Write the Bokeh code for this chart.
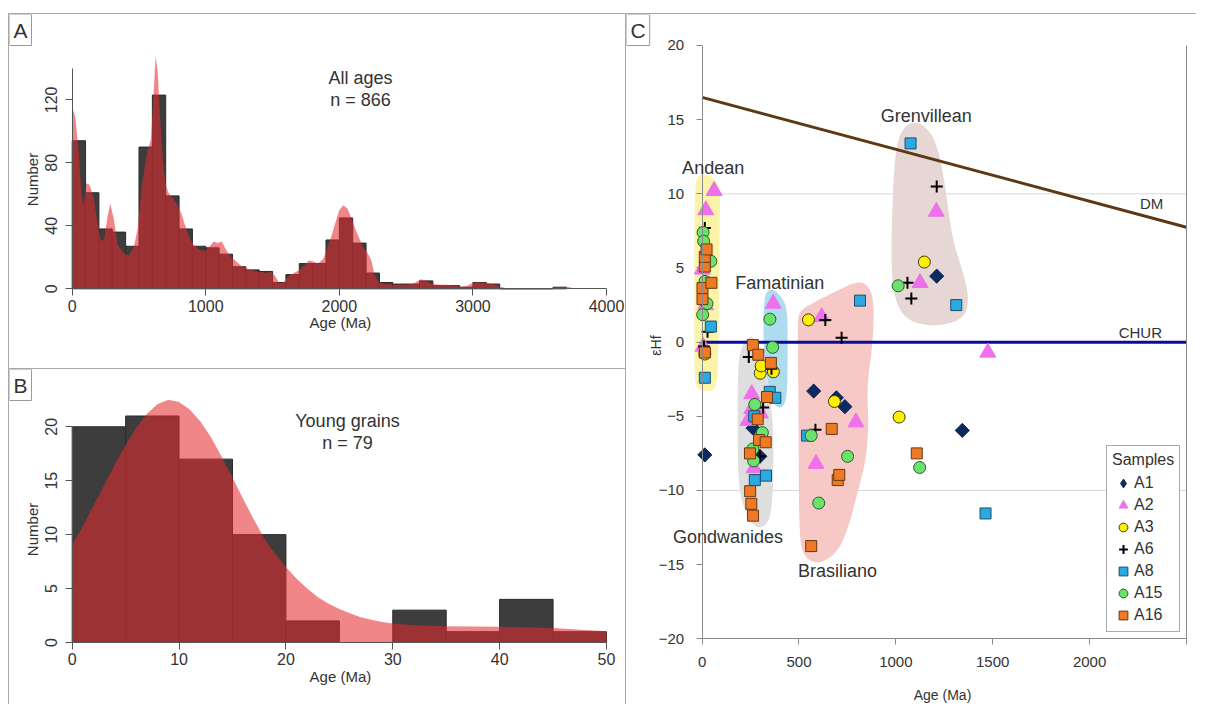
import numpy as np
from bokeh.plotting import figure
from bokeh.layouts import row, column
from bokeh.models import (Range1d, FixedTicker, Label, Legend, LegendItem,
                          LinearAxis, Spacer)
from bokeh.embed import file_html
from bokeh.resources import INLINE

FONT = "Liberation Sans"
TXT = "#333333"

# ---------------- Panel A : all ages ----------------
A_BIN_WIDTH = 100
A_COUNTS = [94, 61, 38, 36, 27, 90, 123, 59, 38, 27, 26, 22, 14, 12, 11, 4, 9, 16, 16,
            31, 45, 29, 10, 4, 3, 3, 5, 2, 2, 1, 4, 3, 0, 0, 0, 0, 1]
A_KDE_AGE = [0, 25, 50, 70, 85, 105, 130, 160, 190, 215, 240, 265, 285, 310, 340, 380,
             420, 460, 490, 520, 560, 590, 610, 625, 640, 660, 680, 700, 720, 750, 790,
             820, 850, 880, 910, 950, 990, 1030, 1060, 1090, 1120, 1150, 1180, 1220, 1260,
             1300, 1340, 1380, 1420, 1460, 1490, 1520, 1550, 1580, 1620, 1660, 1700, 1740,
             1770, 1800, 1840, 1880, 1910, 1940, 1970, 2000, 2030, 2060, 2090, 2120, 2150,
             2180, 2210, 2240, 2260, 2290, 2330, 2400, 2500, 2560, 2610, 2650, 2690, 2750,
             2800, 2870, 2920, 2960, 3000, 3050, 3100, 3150, 3200, 3250, 3300, 3550, 3600,
             3650, 3700, 3760, 3800]
A_KDE_VAL = [116, 108, 85, 60, 52, 67, 66, 58, 42, 30, 32, 46, 54, 45, 28, 23,
             21, 26, 38, 65, 86, 95, 125, 148, 138, 105, 80, 66, 61, 58, 53,
             47, 39, 32, 28, 25, 24, 27, 30, 29, 30, 25, 21, 18, 15,
             13, 12, 11, 10.5, 10, 11, 8, 3.5, 4, 8, 10, 12, 15,
             18, 17.5, 16, 19, 26, 33, 42, 50, 53, 51, 45, 38, 32,
             26, 23, 18, 10, 4.5, 3, 2.5, 2.5, 3.5, 6, 5, 3, 2.5,
             2.5, 2, 1.2, 2, 3.8, 4.2, 3.8, 3, 1.5, 0.3, 0, 0, 0.6,
             1.3, 1.3, 0.3, 0]

# ---------------- Panel B : young grains ----------------
B_BIN_WIDTH = 5
B_COUNTS = [20, 21, 17, 10, 2, 0, 3, 1, 4, 1]
B_KDE_AGE = [0, 1, 2, 3, 4, 5, 6, 7, 8, 9, 10, 11, 12, 13, 14, 15, 16, 17, 18, 19, 20,
             21, 22, 23, 24, 25, 26, 27, 28, 29, 30, 32, 35, 40, 45, 50]
B_KDE_VAL = [9.0, 10.8, 12.7, 14.6, 16.5, 18.3, 19.9, 21.2, 22.1, 22.5, 22.3, 21.6, 20.5,
             19.0, 17.2, 15.3, 13.3, 11.4, 9.6, 8.2, 7.0, 5.9, 5.0, 4.2, 3.6, 3.1, 2.7,
             2.35, 2.1, 1.9, 1.75, 1.6, 1.5, 1.45, 1.35, 1.05]

# ---------------- Panel C : Hf isotopes ----------------
A1_AGE = [14, 263, 298, 576, 693, 737, 1211, 1343]
A1_EHF = [-7.6, -5.8, -7.7, -3.3, -3.75, -4.35, 4.45, -5.95]
A2_AGE = [1, 18, 5, 19, 62, 237, 256, 256, 301, 268, 367, 588, 617, 794, 1125, 1209, 1475]
A2_EHF = [4.9, 2.5, -0.3, 8.9, 10.2, -5.3, -3.5, -4.5, -4.8, -8.5, 2.6, -8.2, 1.7, -5.4,
          4.0, 8.8, -0.7]
A3_AGE = [14, 300, 305, 368, 549, 683, 1017, 1147]
A3_EHF = [-0.8, -2.1, -1.6, -2.0, 1.5, -4.0, -5.05, 5.4]
A6_AGE = [14, 28, 10, 241, 315, 298, 358, 585, 636, 720, 1060, 1080, 1211]
A6_EHF = [7.7, 0.7, -0.3, -1.0, -4.4, -7.7, -1.8, -5.9, 1.5, 0.3, 4.0, 2.95, 10.5]
A8_AGE = [14, 45, 269, 272, 330, 349, 378, 542, 815, 1076, 1312, 1463]
A8_EHF = [-2.4, 1.05, -5.0, -9.3, -9.0, -3.35, -3.75, -6.3, 2.8, 13.4, 2.5, -11.55]
A15_AGE = [5, 8, 45, 15, 25, 3, 272, 266, 262, 311, 350, 364, 563, 602, 751, 1012, 1123]
A15_EHF = [7.4, 6.8, 5.45, 4.1, 2.6, 1.85, -4.2, -8.0, -7.2, -6.1, 1.55, -0.35, -6.3,
           -10.85, -7.7, 3.8, -8.45]
A16_AGE = [2, 2, 14, 14, 23, 48, 14, 247, 248, 254, 263, 262, 290, 287, 294, 328, 335,
           355, 563, 669, 700, 708, 1108]
A16_EHF = [2.9, 3.65, 5.1, 5.75, 6.25, 4.0, -0.7, -7.5, -10.05, -10.9, -11.7, -0.2, -0.85,
           -5.2, -6.6, -6.75, -3.7, -1.4, -13.75, -5.85, -9.3, -8.95, -7.5]

DM_AGE = [0, 2500]
DM_EHF = [16.5, 7.75]
CHUR_AGE = [0, 2500]
CHUR_EHF = [0, 0]
C_AGE_MAX = 2500
C_GRID_Y = [-10, 10]

# outlines of the shaded provinces (age, eHf), smoothed below
ANDEAN_X = [-38, -20, 40, 92, 92, 88, 85, 80, 60, 0, -38, -40, -40]
ANDEAN_Y = [10.5, 11.3, 11.3, 10.5, 9, 5, 0, -2.5, -3.3, -3.3, -3.0, 0, 5]
GOND_X = [200, 230, 265, 300, 330, 360, 370, 365, 345, 290, 240, 186, 183, 186]
GOND_Y = [-0.5, 0.3, 0.4, -0.5, -2, -4.5, -7, -10.5, -12.2, -12.6, -12.0, -10, -5, -1.5]
FAMA_X = [318, 345, 380, 440, 442, 440, 420, 380, 350, 330, 316]
FAMA_Y = [3.0, 3.6, 3.5, 2.5, 0, -3.5, -4.4, -4.4, -3.5, -2, 0]
BRAS_X = [494, 520, 700, 800, 855, 888, 882, 850, 860, 845, 805, 760, 700, 600, 525, 500, 498, 494]
BRAS_Y = [1.8, 2.3, 3.5, 4.1, 3.9, 2.8, 0, -3, -5.5, -8, -10, -12.3, -14.2, -15.0, -14.5, -13, -5, 0]
GREN_X = [1000, 1060, 1130, 1200, 1245, 1290, 1340, 1380, 1350, 1190, 1030, 975, 980]
GREN_Y = [13.5, 14.8, 14.8, 13.8, 11.5, 7.0, 5.0, 3.0, 1.5, 1.0, 1.6, 4, 9]

REGION_NAMES = ["Andean", "Famatinian", "Gondwanides", "Brasiliano", "Grenvillean"]
REGION_LX = [57, 401, 134, 699, 1157]
REGION_LY = [11.76, 3.98, -13.15, -15.4, 15.27]


def chaikin(xs, ys, n=4):
    pts = np.column_stack([xs, ys]).astype(float)
    for _ in range(n):
        nxt = np.roll(pts, -1, axis=0)
        q = 0.75 * pts + 0.25 * nxt
        r = 0.25 * pts + 0.75 * nxt
        new = np.empty((2 * len(pts), 2))
        new[0::2] = q
        new[1::2] = r
        pts = new
    return list(pts[:, 0]), list(pts[:, 1])


def style_axis(ax, line_col, tick_out, lab_size, standoff):
    ax.axis_line_color = line_col
    ax.major_tick_line_color = line_col
    ax.major_tick_out = tick_out
    ax.major_tick_in = 0
    ax.minor_tick_line_color = None
    ax.major_label_text_font = FONT
    ax.major_label_text_font_size = lab_size
    ax.major_label_text_color = TXT
    ax.major_label_standoff = standoff


def make_fig(w, h, xr, yr):
    p = figure(width=w, height=h, x_range=Range1d(*xr), y_range=Range1d(*yr),
               output_backend="svg", toolbar_location=None,
               min_border_left=0, min_border_right=0, min_border_top=0,
               min_border_bottom=0)
    p.outline_line_color = None
    p.xgrid.visible = False
    p.ygrid.visible = False
    return p


def letter_box(p, letter, x, y):
    p.add_layout(Label(x=x, y=y, text=letter,
                       text_font=FONT, text_font_size="21px", text_color=TXT,
                       text_align="left", text_baseline="top",
                       border_line_color="#9a9a9a", border_line_width=1,
                       background_fill_color="white", padding=4))


def text_at(p, x, y, txt, size="18px", angle=0.0):
    p.add_layout(Label(x=x, y=y, text=txt, text_font=FONT, text_font_size=size,
                       text_color=TXT, text_align="center", text_baseline="middle",
                       angle=angle))


BORDER = "1px solid #a8a8a8"

# ---- figure A (frame fills the whole canvas; axes pinned at 0)
pA = make_fig(618, 356, (-469.4, 4157.2), (-51.9, 174.2))
a_left = [i * A_BIN_WIDTH for i in range(len(A_COUNTS))]
a_right = [l + A_BIN_WIDTH for l in a_left]
pA.quad(left=a_left, right=a_right, bottom=0, top=A_COUNTS, fill_color="#3d3d3d",
        line_color="#2a2a2a", line_width=1)
pA.varea(x=A_KDE_AGE, y1=0, y2=A_KDE_VAL, fill_color="#E62A2E", fill_alpha=0.57)
pA.xaxis.fixed_location = 0
pA.yaxis.fixed_location = 0
pA.xaxis.ticker = FixedTicker(ticks=[0, 1000, 2000, 3000, 4000])
pA.yaxis.ticker = FixedTicker(ticks=[0, 40, 80, 120])
pA.xaxis.bounds = (0, 4000)
pA.yaxis.bounds = (0, 140)
style_axis(pA.xaxis[0], "#555555", 7, "16px", 4)
style_axis(pA.yaxis[0], "#555555", 7, "16px", 8)
pA.yaxis.major_label_orientation = "vertical"
text_at(pA, 2008, -21.4, "Age (Ma)", "15px")
text_at(pA, -297, 69.4, "Number", "15px", np.pi / 2)
text_at(pA, 2158, 134, "All ages")
text_at(pA, 2158, 120, "n = 866")
letter_box(pA, "A", -469.4, 174.2)
pA.styles = {"border-top": BORDER, "border-left": BORDER, "border-right": BORDER,
             "border-bottom": BORDER}

# ---- figure B
pB = make_fig(618, 335, (-5.867, 51.965), (-5.749, 25.31))
b_left = [i * B_BIN_WIDTH for i in range(len(B_COUNTS))]
b_right = [l + B_BIN_WIDTH for l in b_left]
pB.quad(left=b_left, right=b_right, bottom=0, top=B_COUNTS, fill_color="#3d3d3d",
        line_color="#2a2a2a", line_width=1)
pB.varea(x=B_KDE_AGE, y1=0, y2=B_KDE_VAL, fill_color="#E62A2E", fill_alpha=0.57)
pB.xaxis.fixed_location = 0
pB.yaxis.fixed_location = 0
pB.xaxis.ticker = FixedTicker(ticks=[0, 10, 20, 30, 40, 50])
pB.yaxis.ticker = FixedTicker(ticks=[0, 5, 10, 15, 20])
pB.xaxis.bounds = (0, 50)
pB.yaxis.bounds = (0, 20)
style_axis(pB.xaxis[0], "#555555", 7, "16px", 4)
style_axis(pB.yaxis[0], "#555555", 7, "16px", 8)
pB.yaxis.major_label_orientation = "vertical"
text_at(pB, 25.1, -3.15, "Age (Ma)", "15px")
text_at(pB, -3.715, 10.48, "Number", "15px", np.pi / 2)
text_at(pB, 25.76, 20.49, "Young grains")
text_at(pB, 25.76, 18.45, "n = 79")
letter_box(pB, "B", -5.867, 25.31)
pB.styles = {"border-left": BORDER, "border-right": BORDER}

# ---- figure C
pC = make_fig(570, 692, (-390.3, 2552), (-24.565, 22.09))
pC.segment(x0=[0] * len(C_GRID_Y), x1=[C_AGE_MAX] * len(C_GRID_Y), y0=C_GRID_Y,
           y1=C_GRID_Y, line_color="#d9d9d9", line_width=1)

for xs, ys, col in [(ANDEAN_X, ANDEAN_Y, "#FAF3A8"), (GOND_X, GOND_Y, "#DEDEDE"),
                    (FAMA_X, FAMA_Y, "#AFDBEF"), (BRAS_X, BRAS_Y, "#F6C9C6"),
                    (GREN_X, GREN_Y, "#E6D7D4")]:
    sx, sy = chaikin(xs, ys)
    pC.patch(sx, sy, fill_color=col, line_color=None)

pC.line(DM_AGE, DM_EHF, line_color="#5E3814", line_width=3)
pC.line(CHUR_AGE, CHUR_EHF, line_color="#0A0A9E", line_width=3)

NAVY = "#0B2A5E"
series = [
    ("A1", A1_AGE, A1_EHF, dict(marker="square", angle=np.pi / 4, size=10,
                                 fill_color=NAVY, line_color=NAVY)),
    ("A2", A2_AGE, A2_EHF, dict(marker="triangle", size=16, fill_color="#EE70EA",
                                 line_color="#EE70EA")),
    ("A3", A3_AGE, A3_EHF, dict(marker="circle", size=12, fill_color="#FFF000",
                                 line_color="#3b3b10")),
    ("A6", A6_AGE, A6_EHF, dict(marker="cross", size=12, line_color="#000000",
                                 line_width=2)),
    ("A8", A8_AGE, A8_EHF, dict(marker="square", size=11, fill_color="#2BAAE2",
                                 line_color="#1d4d70")),
    ("A15", A15_AGE, A15_EHF, dict(marker="circle", size=12, fill_color="#6BE36B",
                                   line_color="#2c5a2c")),
    ("A16", A16_AGE, A16_EHF, dict(marker="square", size=11, fill_color="#EE7A25",
                                   line_color="#6a3810")),
]
items = []
for name, xs, ys, kw in series:
    if name == "A1":
        # a true diamond under each rotated square, used for the legend swatch
        leg_r = pC.scatter(xs, ys, marker="diamond", size=13, fill_color=NAVY,
                           line_color=NAVY)
        pC.scatter(xs, ys, **kw)
        items.append(LegendItem(label=name, renderers=[leg_r]))
        continue
    r = pC.scatter(xs, ys, **kw)
    items.append(LegendItem(label=name, renderers=[r]))

for nm, lx, ly in zip(REGION_NAMES, REGION_LX, REGION_LY):
    text_at(pC, lx, ly, nm, "18px")
text_at(pC, 2320, 9.34, "DM", "15px")
text_at(pC, 2262, 0.68, "CHUR", "15px")

pC.xaxis.fixed_location = -20
pC.yaxis.fixed_location = 0
pC.xaxis.ticker = FixedTicker(ticks=[0, 500, 1000, 1500, 2000, 2500])
pC.xaxis.major_label_overrides = {2500: ""}
pC.xaxis.bounds = (0, 2500)
pC.yaxis.ticker = FixedTicker(ticks=[-20, -15, -10, -5, 0, 5, 10, 15, 20])
pC.yaxis.bounds = (-20, 20)
style_axis(pC.xaxis[0], "#8a8a8a", 6, "15px", 12)
style_axis(pC.yaxis[0], "#8a8a8a", 6, "15px", 12)
right_ax = LinearAxis(ticker=FixedTicker(ticks=[]), fixed_location=2500,
                      bounds=(-20, 20), axis_line_color="#8a8a8a",
                      major_tick_line_color=None, minor_tick_line_color=None)
pC.add_layout(right_ax, "right")
text_at(pC, 1241, -23.76, "Age (Ma)", "14px")
text_at(pC, -240.6, -0.23, "εHf", "14px", np.pi / 2)

legend = Legend(items=items, title="Samples", location=(480, 74),
                title_text_font=FONT, title_text_font_size="16px",
                title_text_font_style="normal", title_text_color=TXT, title_standoff=3,
                label_text_font=FONT, label_text_font_size="16px", label_text_color=TXT,
                label_height=22, glyph_height=22, glyph_width=22, label_standoff=0,
                spacing=0, padding=5, margin=0, border_line_color="#555555",
                background_fill_alpha=1)
pC.add_layout(legend)
letter_box(pC, "C", -390.3, 22.09)
pC.styles = {"border-top": BORDER}

layout = column(Spacer(width=1198, height=13),
                row(Spacer(width=8, height=693), column(pA, pB), pC))
open("out.html", "w").write(file_html(layout, INLINE))
